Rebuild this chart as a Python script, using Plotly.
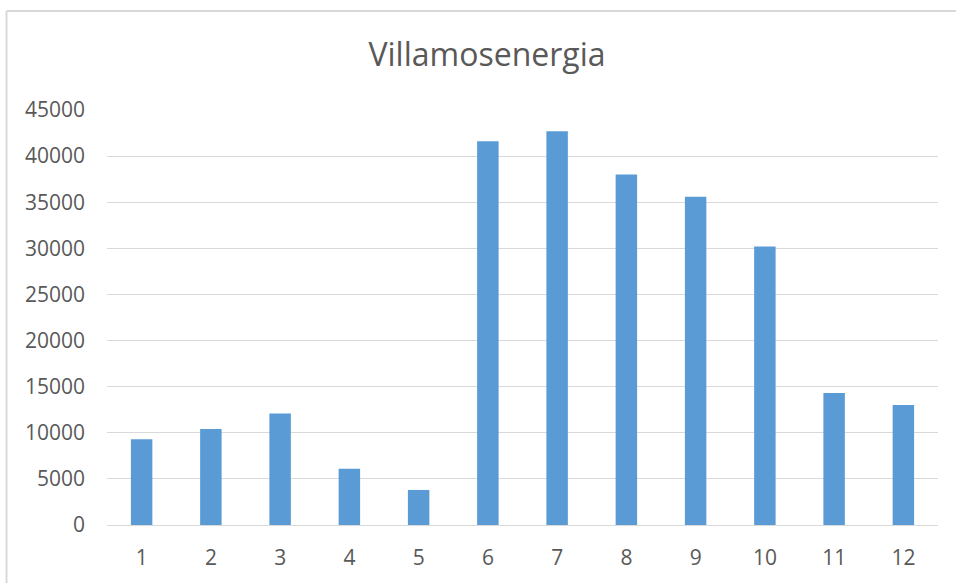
import plotly.graph_objects as go

categories = [str(i) for i in range(1, 13)]
values = [9300, 10400, 12100, 6100, 3800, 41600, 42700, 38000, 35600, 30200, 14300, 13000]
y_ticks = [0, 5000, 10000, 15000, 20000, 25000, 30000, 35000, 40000, 45000]

W, H = 956, 583
L, R, T, B = 107, 18, 110, 58
pw, ph = W - L - R, H - T - B

def px_x(p):
    return (p - L) / pw

def px_y(p):
    return (H - B - p) / ph

fig = go.Figure()
fig.add_trace(go.Bar(
    x=categories, y=values,
    marker=dict(color="#5B9BD5", line=dict(width=0)),
    hoverinfo="x+y",
))

font_family = "Open Sans, Noto Sans, sans-serif"

fig.update_layout(
    width=W, height=H,
    margin=dict(l=L, r=R, t=T, b=B),
    paper_bgcolor="white",
    plot_bgcolor="white",
    bargap=0.69,
    showlegend=False,
    title=dict(
        text="Villamosenergia",
        x=px_x(487), xref="paper", xanchor="center",
        y=1 - 55 / H, yref="container", yanchor="middle",
        font=dict(family=font_family, size=32, color="#595959"),
    ),
    xaxis=dict(
        type="category",
        showgrid=False,
        showline=True, linecolor="#D9D9D9", linewidth=1,
        ticks="", ticklabelstandoff=14,
        tickfont=dict(family=font_family, size=21, color="#595959"),
    ),
    yaxis=dict(
        range=[0, 45000],
        tickvals=y_ticks,
        ticktext=[str(v) for v in y_ticks],
        showgrid=True, gridcolor="#D9D9D9", gridwidth=1,
        zeroline=True, zerolinecolor="#D9D9D9", zerolinewidth=1,
        showline=False, ticks="", ticklabelstandoff=21,
        tickfont=dict(family=font_family, size=21, color="#595959"),
    ),
    shapes=[
        dict(type="line", xref="paper", yref="paper",
             x0=px_x(6.5), x1=px_x(W + 5), y0=px_y(11), y1=px_y(11),
             line=dict(color="#D9D9D9", width=2)),
        dict(type="line", xref="paper", yref="paper",
             x0=px_x(6.5), x1=px_x(6.5), y0=px_y(11), y1=px_y(H + 5),
             line=dict(color="#D9D9D9", width=2)),
    ],
)

fig.write_html(
    "out.html",
    config={"displayModeBar": False},
    post_script="document.body.style.margin='0';document.body.style.overflow='hidden';",
)
